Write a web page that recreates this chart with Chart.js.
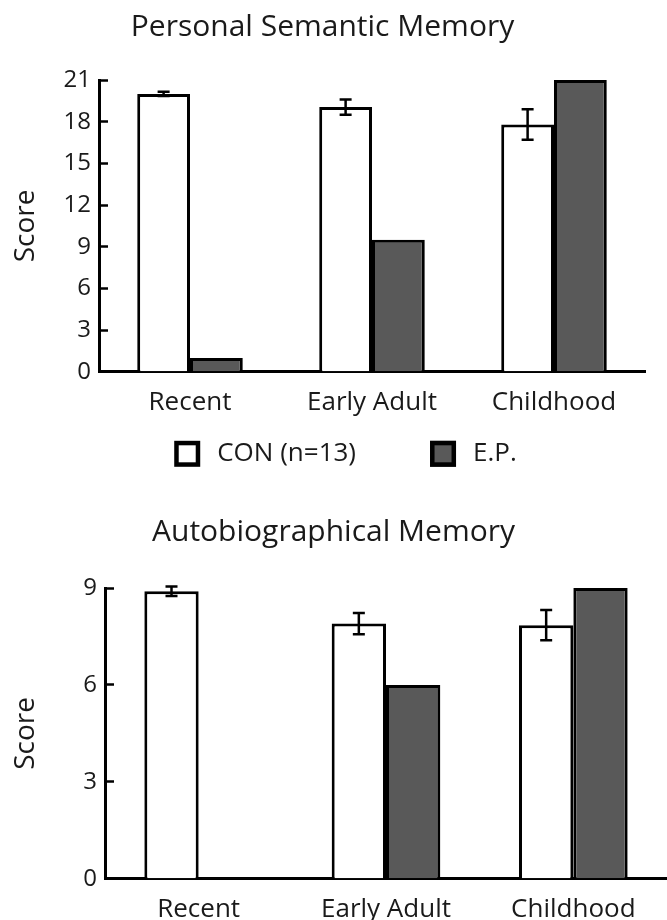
<!DOCTYPE html>
<html>
<head>
<meta charset="utf-8">
<script src="https://cdn.jsdelivr.net/npm/chart.js@4.4.0/dist/chart.umd.min.js"></script>
<style>
  html, body { margin: 0; padding: 0; background: #fff; overflow: hidden; }
  .box { position: relative; width: 667px; }
  #top { height: 490px; }
  #bottom { height: 460px; }
</style>
</head>
<body>
<div class="box" id="top"><canvas id="chartTop"></canvas></div>
<div class="box" id="bottom"><canvas id="chartBottom"></canvas></div>
<script>
// data
const categories = ['Recent', 'Early Adult', 'Childhood'];
const seriesNames = ['CON (n=13)', 'E.P.'];

const semanticCon = [20.0, 19.05, 17.8];
const semanticConErr = [0.15, 0.55, 1.1];
const semanticEp = [1.0, 9.5, 21.0];
const semanticTicks = [0, 3, 6, 9, 12, 15, 18, 21];

const autoCon = [8.9, 7.9, 7.85];
const autoConErr = [0.15, 0.33, 0.47];
const autoEp = [0.03, 6.0, 9.0];
const autoTicks = [0, 3, 6, 9];

Chart.defaults.font.family = '"Open Sans", sans-serif';
Chart.defaults.color = '#1a1a1a';

// error bars on the CON bars
const errorBars = {
  id: 'errorBars',
  afterDatasetsDraw(chart, args, opts) {
    const errs = opts.errors;
    if (!errs) return;
    const meta = chart.getDatasetMeta(0);
    const y = chart.scales.y;
    const ctx = chart.ctx;
    ctx.save();
    ctx.strokeStyle = '#000';
    ctx.lineWidth = 2.5;
    meta.data.forEach((bar, i) => {
      const v = chart.data.datasets[0].data[i];
      const hi = y.getPixelForValue(v + errs[i]);
      const lo = y.getPixelForValue(v - errs[i]);
      ctx.beginPath();
      ctx.moveTo(bar.x, hi); ctx.lineTo(bar.x, lo);
      ctx.moveTo(bar.x - 6, hi); ctx.lineTo(bar.x + 6, hi);
      ctx.moveTo(bar.x - 6, lo); ctx.lineTo(bar.x + 6, lo);
      ctx.stroke();
    });
    ctx.restore();
  }
};

// legend under the first chart
const boxLegend = {
  id: 'boxLegend',
  afterDraw(chart, args, opts) {
    if (!opts.show) return;
    const ctx = chart.ctx;
    ctx.save();
    ctx.font = '26px "Open Sans"';
    const box = 26, gapText = 17, gapItem = 74;
    const items = chart.data.datasets.map(ds => ({
      text: ds.label, fill: ds.backgroundColor, w: ctx.measureText(ds.label).width
    }));
    const total = items.reduce((s, it) => s + box + gapText + it.w, 0) + gapItem * (items.length - 1);
    let x = chart.width / 2 + opts.shift - total / 2;
    const cy = chart.chartArea.bottom + opts.offset;
    items.forEach(it => {
      ctx.fillStyle = it.fill;
      ctx.fillRect(x, cy - box / 2, box, box);
      ctx.lineWidth = 4.5;
      ctx.strokeStyle = '#000';
      ctx.strokeRect(x + 2.25, cy - box / 2 + 2.25, box - 4.5, box - 4.5);
      ctx.fillStyle = '#1a1a1a';
      ctx.textBaseline = 'middle';
      ctx.textAlign = 'left';
      ctx.fillText(it.text, x + box + gapText, cy);
      x += box + gapText + it.w + gapItem;
    });
    ctx.restore();
  }
};

function makeChart(id, title, con, conErr, ep, ticks, lay) {
  return new Chart(document.getElementById(id), {
    type: 'bar',
    data: {
      labels: categories,
      datasets: [
        {
          label: seriesNames[0],
          data: con,
          backgroundColor: '#ffffff',
          borderColor: '#000',
          borderWidth: 3,
        },
        {
          label: seriesNames[1],
          data: ep,
          backgroundColor: '#595959',
          borderColor: '#000',
          borderWidth: 3,
        },
      ],
    },
    options: {
      responsive: true,
      maintainAspectRatio: false,
      animation: false,
      categoryPercentage: 0.58,
      barPercentage: 1.0,
      layout: { padding: { left: 0, right: lay.right, top: 0, bottom: lay.bottom } },
      plugins: {
        legend: { display: false },
        tooltip: { enabled: false },
        title: {
          display: true,
          text: title,
          color: '#1a1a1a',
          font: { size: 30, weight: 'normal' },
          padding: { top: lay.titleTop, bottom: lay.titleBottom },
        },
        errorBars: { errors: conErr },
        boxLegend: { show: lay.legend, offset: 82, shift: 12 },
      },
      scales: {
        x: {
          grid: { display: false, drawTicks: false },
          border: { color: '#000', width: 3 },
          ticks: { font: { size: 26 }, padding: 15, maxRotation: 0 },
        },
        y: {
          min: ticks[0],
          max: ticks[ticks.length - 1],
          afterBuildTicks: (s) => { s.ticks = ticks.map((v) => ({ value: v })); },
          afterFit: (s) => { s.width = lay.axisLeft; },
          grid: { drawOnChartArea: false, drawTicks: true, tickLength: -9, tickColor: '#000', tickWidth: 2.5 },
          border: { color: '#000', width: 3 },
          ticks: { font: { size: 24 }, padding: 17 },
          title: {
            display: true,
            text: 'Score',
            color: '#1a1a1a',
            font: { size: 28 },
            padding: { top: 9, bottom: 9 },
          },
        },
      },
    },
    plugins: [errorBars, boxLegend],
  });
}

makeChart('chartTop', 'Personal Semantic Memory', semanticCon, semanticConErr, semanticEp, semanticTicks,
  { right: 22, bottom: 57, titleTop: 9, titleBottom: 35, axisLeft: 99, legend: true });
makeChart('chartBottom', 'Autobiographical Memory', autoCon, autoConErr, autoEp, autoTicks,
  { right: 0, bottom: 10, titleTop: 24, titleBottom: 38, axisLeft: 105, legend: false });
</script>
</body>
</html>
